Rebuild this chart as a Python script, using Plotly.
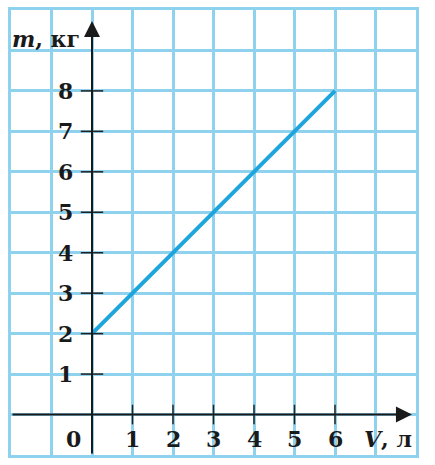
import plotly.graph_objects as go

# Data
V_vals = [0, 6]
m_vals = [2, 8]
x_ticks = [1, 2, 3, 4, 5, 6]
y_ticks = [1, 2, 3, 4, 5, 6, 7, 8]
x_tick_labels = ["1", "2", "3", "4", "5", "6"]
y_tick_labels = ["1", "2", "3", "4", "5", "6", "7", "8"]

GRID = "#8fd2ee"
LINE = "#1ea5dd"
FONT = "DejaVu Serif"

fig = go.Figure()

fig.add_trace(go.Scatter(x=V_vals, y=m_vals, mode="lines",
                         line=dict(color=LINE, width=4), hoverinfo="skip"))

# tick marks on axes
fig.add_trace(go.Scatter(x=x_ticks, y=[0]*len(x_ticks), mode="markers",
                         marker=dict(symbol="line-ns", size=14,
                                     line=dict(color="#222", width=1.5)),
                         hoverinfo="skip"))
fig.add_trace(go.Scatter(x=[0]*len(y_ticks), y=y_ticks, mode="markers",
                         marker=dict(symbol="line-ew", size=16,
                                     line=dict(color="#222", width=1.5)),
                         hoverinfo="skip"))

annotations = []
# axes arrows
annotations.append(dict(x=0, y=9.73, ax=0, ay=-1, xref="x", yref="y", axref="x", ayref="y",
                        showarrow=True, arrowhead=2, arrowsize=1.6, arrowwidth=2,
                        arrowcolor="#1a1a1a", text=""))
annotations.append(dict(x=7.9, y=0, ax=-2, ay=0, xref="x", yref="y", axref="x", ayref="y",
                        showarrow=True, arrowhead=2, arrowsize=1.6, arrowwidth=2,
                        arrowcolor="#1a1a1a", text=""))

tfont = dict(family=FONT, size=22, color="#1a1a1a")
for v, t in zip(x_ticks, x_tick_labels):
    annotations.append(dict(x=v, y=0, xref="x", yref="y", text="<b>%s</b>" % t,
                            showarrow=False, yshift=-24, font=tfont))
for v, t in zip(y_ticks, y_tick_labels):
    annotations.append(dict(x=0, y=v, xref="x", yref="y", text="<b>%s</b>" % t,
                            showarrow=False, xshift=-27, font=tfont))
annotations.append(dict(x=0, y=0, xref="x", yref="y", text="<b>0</b>",
                        showarrow=False, xshift=-19, yshift=-24, font=tfont))
annotations.append(dict(x=0, y=10 - (36 - 7) / 40.7, xref="x", yref="y",
                        text="<b><i>m</i>, кг</b>", showarrow=False, xanchor="right",
                        xshift=-10, font=tfont))
annotations.append(dict(x=7.95, y=0, xref="x", yref="y",
                        text="<b><i>V</i>, л</b>", showarrow=False, xanchor="right",
                        yshift=-24, font=tfont))

fig.update_layout(
    width=435, height=465,
    margin=dict(l=11, r=19, t=7, b=10),
    paper_bgcolor="white", plot_bgcolor="white",
    showlegend=False,
    annotations=annotations,
    xaxis=dict(range=[-2, 8], dtick=1, tick0=0, showgrid=True, gridcolor=GRID, gridwidth=2.5,
               zeroline=False, showticklabels=False, ticks="",
               showline=True, mirror=True, linecolor=GRID, linewidth=2.5, fixedrange=True),
    yaxis=dict(range=[-1, 10], dtick=1, tick0=0, showgrid=True, gridcolor=GRID, gridwidth=2.5,
               zeroline=False, showticklabels=False, ticks="",
               showline=True, mirror=True, linecolor=GRID, linewidth=2.5, fixedrange=True),
)

fig.write_html("out.html", config={"displayModeBar": False},
               post_script="document.body.style.margin='0';document.body.style.overflow='hidden';")
